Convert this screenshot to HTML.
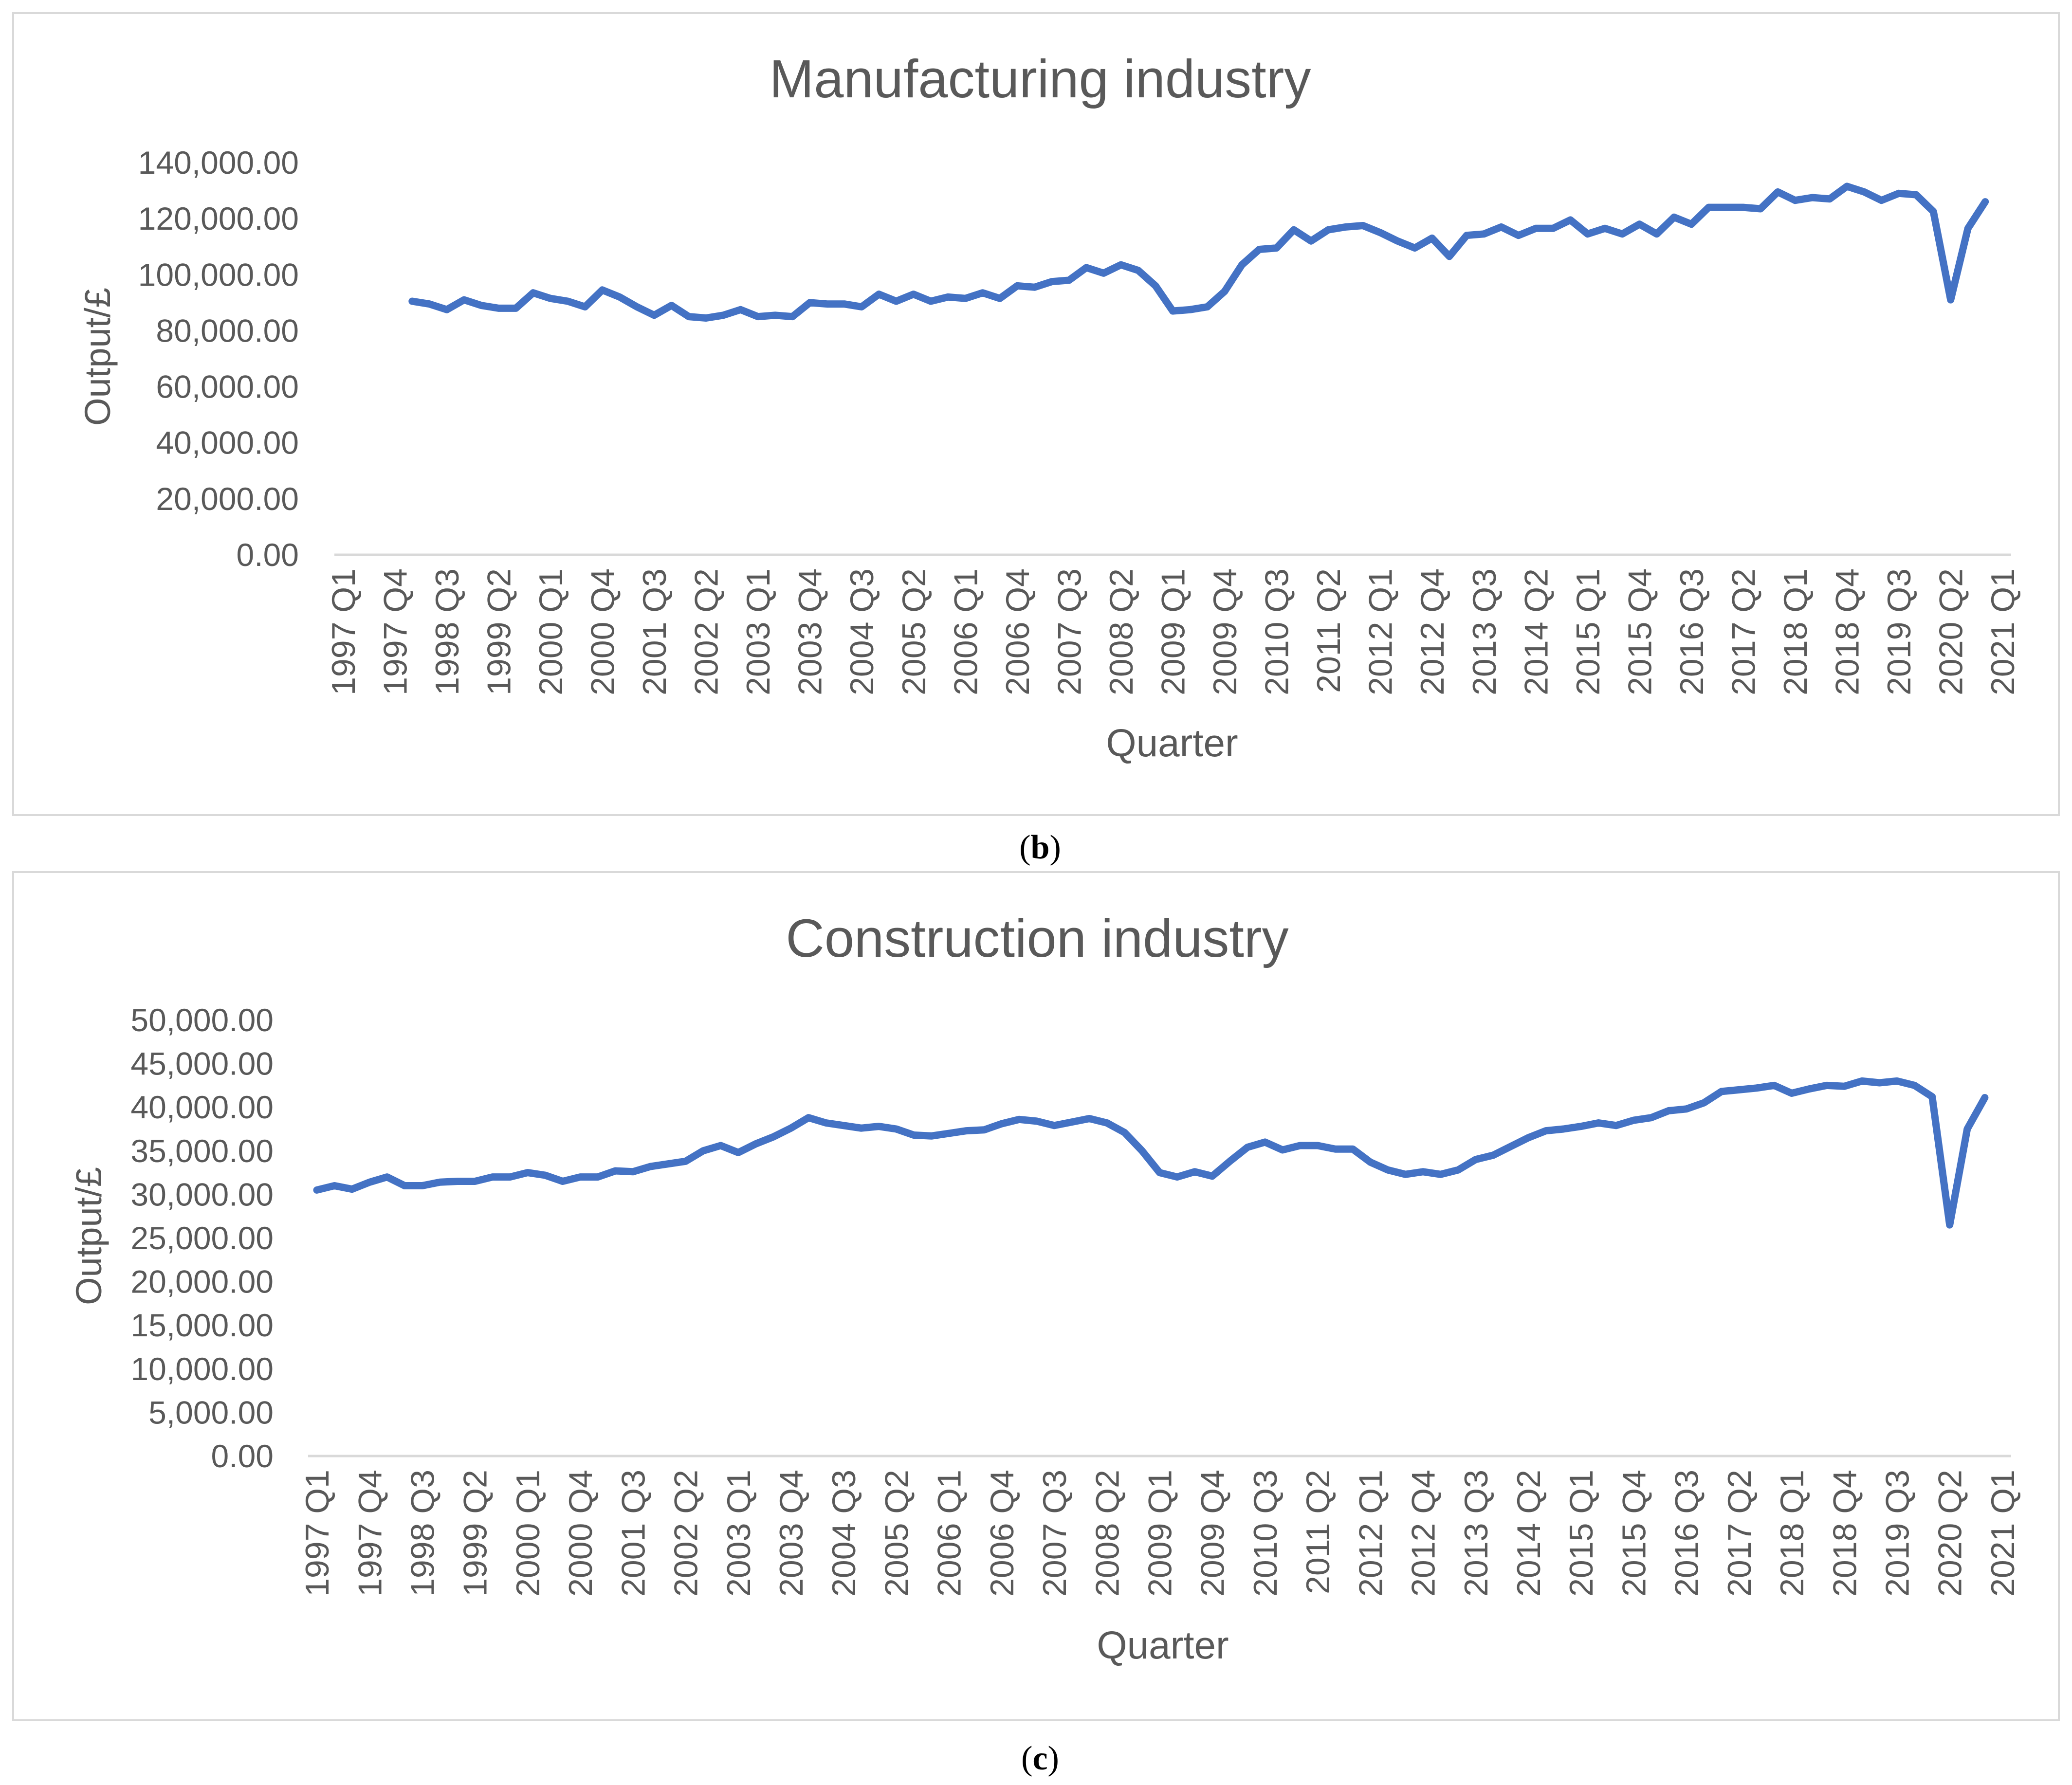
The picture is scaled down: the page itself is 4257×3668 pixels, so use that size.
<!DOCTYPE html>
<html><head><meta charset="utf-8">
<style>
html,body{margin:0;padding:0;background:#fff;}
svg{display:block;font-family:"Liberation Sans","DejaVu Sans",sans-serif;}
</style></head>
<body>
<svg id="root" width="4257" height="3668" viewBox="0 0 4257 3668" xmlns="http://www.w3.org/2000/svg">
  <rect x="27" y="27" width="4203" height="1648" fill="#fff" stroke="#d9d9d9" stroke-width="4"/>
  <text x="2137" y="200" text-anchor="middle" font-size="110" fill="#595959">Manufacturing industry</text>
  <text transform="translate(226,733) rotate(-90)" text-anchor="middle" font-size="74" fill="#595959">Output/£</text>
  <text x="2408" y="1554" text-anchor="middle" font-size="80" fill="#595959">Quarter</text>
  <text x="2137" y="1764" text-anchor="middle" font-size="70" font-family="Liberation Serif, serif" fill="#000">(<tspan font-weight="bold">b</tspan>)</text>
  <g id="chartA"></g>

  <rect x="27" y="1792" width="4203" height="1743" fill="#fff" stroke="#d9d9d9" stroke-width="4"/>
  <text x="2131" y="1966" text-anchor="middle" font-size="110" fill="#595959">Construction industry</text>
  <text transform="translate(208,2540) rotate(-90)" text-anchor="middle" font-size="74" fill="#595959">Output/£</text>
  <text x="2389" y="3408" text-anchor="middle" font-size="80" fill="#595959">Quarter</text>
  <text x="2137" y="3636" text-anchor="middle" font-size="70" font-family="Liberation Serif, serif" fill="#000">(<tspan font-weight="bold">c</tspan>)</text>
  <g id="chartB"></g>
</svg>
<script>
const quarterLabels = ["1997 Q1","1997 Q4","1998 Q3","1999 Q2","2000 Q1","2000 Q4","2001 Q3","2002 Q2","2003 Q1","2003 Q4","2004 Q3","2005 Q2","2006 Q1","2006 Q4","2007 Q3","2008 Q2","2009 Q1","2009 Q4","2010 Q3","2011 Q2","2012 Q1","2012 Q4","2013 Q3","2014 Q2","2015 Q1","2015 Q4","2016 Q3","2017 Q2","2018 Q1","2018 Q4","2019 Q3","2020 Q2","2021 Q1"];
const manufacturingStart = 4;
const manufacturingValues = [90500,89500,87500,91000,89000,88000,88000,93500,91500,90500,88500,94500,92000,88500,85500,89000,85000,84500,85500,87500,85000,85500,85000,90000,89500,89500,88500,93000,90500,93000,90500,92000,91500,93500,91500,96000,95500,97500,98000,102500,100500,103500,101500,96000,87000,87500,88500,94000,103500,109000,109500,116000,112000,116000,117000,117500,115000,112000,109500,113000,106500,114000,114500,117000,114000,116500,116500,119500,114500,116500,114500,118000,114500,120500,118000,124000,124000,124000,123500,129500,126500,127500,127000,131500,129500,126500,129000,128500,122500,91000,116500,126000];
const manufacturingTicks = [0,20000,40000,60000,80000,100000,120000,140000];
const constructionStart = 0;
const constructionValues = [30500,31000,30600,31400,32000,31000,31000,31400,31500,31500,32000,32000,32500,32200,31500,32000,32000,32700,32600,33200,33500,33800,35000,35600,34800,35800,36600,37600,38800,38200,37900,37600,37800,37500,36800,36700,37000,37300,37400,38100,38600,38400,37900,38300,38700,38200,37100,35000,32500,32000,32600,32100,33800,35400,36000,35100,35600,35600,35200,35200,33700,32800,32300,32600,32300,32800,34000,34500,35500,36500,37300,37500,37800,38200,37900,38500,38800,39600,39800,40500,41800,42000,42200,42500,41600,42100,42500,42400,43000,42800,43000,42500,41200,26500,37500,41100];
const constructionTicks = [0,5000,10000,15000,20000,25000,30000,35000,40000,45000,50000];
const NS = "http://www.w3.org/2000/svg";
const NCAT = 97;

function fmt(v){return v.toLocaleString("en-US",{minimumFractionDigits:2,maximumFractionDigits:2});}

function drawChart(g, ticks, values, start, cfg){
  const yMax = ticks[ticks.length-1];
  const xs = i => cfg.x0 + (i+0.5)*(cfg.x1-cfg.x0)/NCAT;
  const ys = v => cfg.yb - v/yMax*(cfg.yb-cfg.yt);
  ticks.forEach(t=>{
    const tx=document.createElementNS(NS,"text");
    
    
    tx.setAttribute("x",cfg.tickRight);tx.setAttribute("y",ys(t)+23);
    tx.setAttribute("text-anchor","end");tx.setAttribute("font-size","66");tx.setAttribute("fill","#595959");
    tx.textContent=fmt(t);g.appendChild(tx);
  });
  const ax=document.createElementNS(NS,"line");
  
  
  ax.setAttribute("x1",cfg.x0);ax.setAttribute("x2",cfg.x1);ax.setAttribute("y1",cfg.yb);ax.setAttribute("y2",cfg.yb);
  ax.setAttribute("stroke","#d9d9d9");ax.setAttribute("stroke-width","5");g.appendChild(ax);
  quarterLabels.forEach((l,k)=>{
    const x=xs(k*3);
    const tx=document.createElementNS(NS,"text");
    
    
    tx.setAttribute("transform","translate("+(x+24)+","+(cfg.yb+28)+") rotate(-90)");
    tx.setAttribute("text-anchor","end");tx.setAttribute("font-size","68");tx.setAttribute("fill","#595959");
    tx.textContent=l;g.appendChild(tx);
  });
  const pts=values.map((v,i)=>xs(start+i).toFixed(1)+","+ys(v).toFixed(1)).join(" ");
  const pl=document.createElementNS(NS,"polyline");
  
  
  pl.setAttribute("points",pts);pl.setAttribute("fill","none");pl.setAttribute("stroke","#4472c4");
  pl.setAttribute("stroke-width","15");pl.setAttribute("stroke-linejoin","round");pl.setAttribute("stroke-linecap","round");
  g.appendChild(pl);
}
drawChart(document.getElementById("chartA"), manufacturingTicks, manufacturingValues, manufacturingStart,
  {x0:687,x1:4132,yt:334,yb:1140,tickRight:614});
drawChart(document.getElementById("chartB"), constructionTicks, constructionValues, constructionStart,
  {x0:633,x1:4132,yt:2096,yb:2992,tickRight:562});
</script>
</body></html>
